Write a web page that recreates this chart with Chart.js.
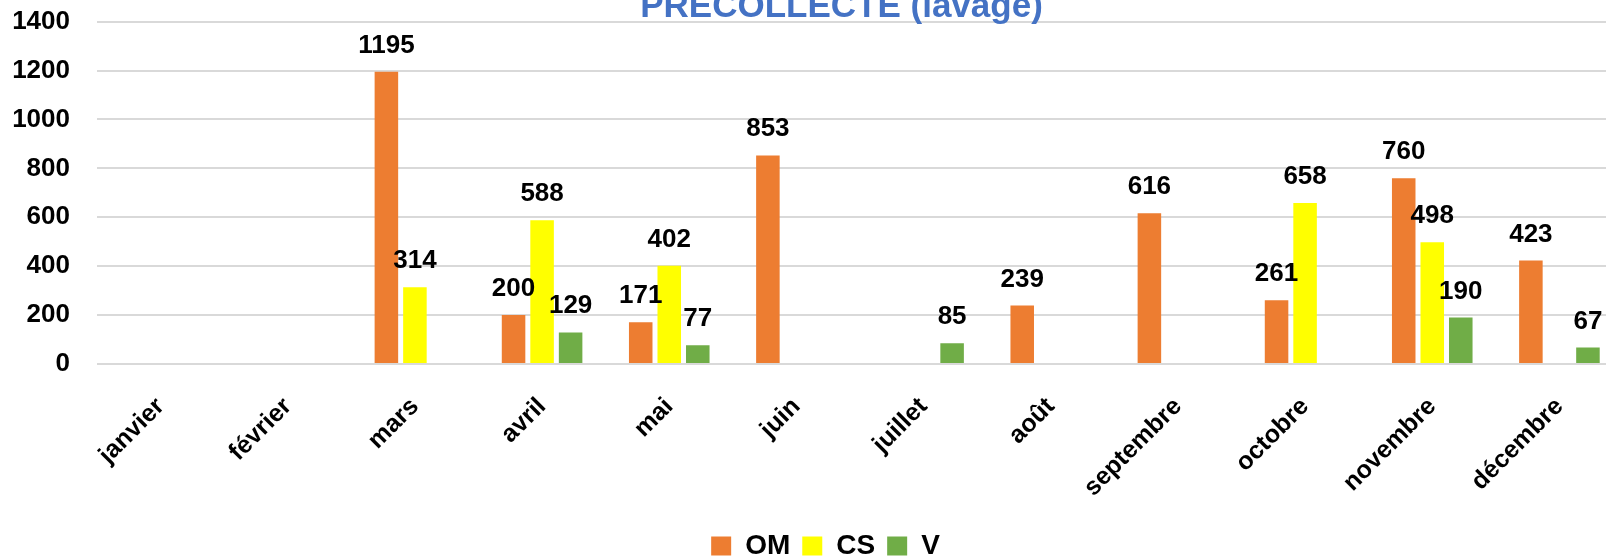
<!DOCTYPE html>
<html><head><meta charset="utf-8">
<script src="https://cdn.jsdelivr.net/npm/chart.js@4.4.1/dist/chart.umd.min.js"></script>
<style>
html,body{margin:0;padding:0;background:#fff;overflow:hidden;width:1606px;height:558px;}
#wrap{position:absolute;left:0;top:-21px;width:1623px;height:591px;}
</style></head><body>
<div id="wrap"><canvas id="c" width="1623" height="591"></canvas></div>
<script>
const categories = ["janvier","février","mars","avril","mai","juin","juillet","août","septembre","octobre","novembre","décembre"];
const omValues = [null,null,1195,200,171,853,null,239,616,261,760,423];
const csValues = [null,null,314,588,402,null,null,null,null,658,498,null];
const vValues  = [null,null,null,129,77,null,85,null,null,null,190,67];
const yTicks = [0,200,400,600,800,1000,1200,1400];
const seriesNames = ["OM","CS","V"];
const titleText = "PRECOLLECTE (lavage)";

const FONT = '"Liberation Sans", Arial, sans-serif';

const valueLabels = {
  id: 'valueLabels',
  afterDatasetsDraw(chart) {
    const ctx = chart.ctx;
    ctx.save();
    ctx.font = 'bold 26px ' + FONT;
    ctx.fillStyle = '#000';
    ctx.textAlign = 'center';
    ctx.textBaseline = 'alphabetic';
    chart.data.datasets.forEach((ds, di) => {
      const meta = chart.getDatasetMeta(di);
      meta.data.forEach((el, i) => {
        const v = ds.data[i];
        if (v === null || v === undefined) return;
        ctx.fillText(String(v), el.x, el.y - 19);
      });
    });
    ctx.restore();
  }
};

const shiftBlocks = {
  id: 'shiftBlocks',
  afterLayout(chart) {
    const t = chart.titleBlock;
    if (t) { t.left += 30; t.right += 30; }
    const l = chart.legend;
    if (l) { l.left += 14; l.right += 14; }
  }
};

new Chart(document.getElementById('c'), {
  type: 'bar',
  data: {
    labels: categories,
    datasets: [
      {label: seriesNames[0], data: omValues, backgroundColor: '#ED7D31'},
      {label: seriesNames[1], data: csValues, backgroundColor: '#FFFF00'},
      {label: seriesNames[2], data: vValues, backgroundColor: '#70AD47'}
    ]
  },
  options: {
    responsive: false,
    animation: false,
    devicePixelRatio: 1,
    layout: {padding: 0},
    datasets: {bar: {barPercentage: 0.825, categoryPercentage: 0.673}},
    plugins: {
      title: {display: true, text: titleText, color: '#4472C4',
        font: {family: FONT, size: 35, weight: 'bold', lineHeight: 1},
        padding: {top: 2.4, bottom: -2.9}},
      legend: {position: 'bottom',
        labels: {boxWidth: 20, boxHeight: 19, padding: 12, color: '#000',
          font: {family: FONT, size: 28, weight: 'bold'}}},
      tooltip: {enabled: false}
    },
    scales: {
      x: {
        grid: {display: false, drawTicks: false},
        border: {display: false},
        ticks: {minRotation: 45, maxRotation: 45, autoSkip: false, padding: 28, color: '#000',
          font: {family: FONT, size: 25, weight: 'bold'}},
        afterFit: s => { s.height = 156; }
      },
      y: {
        min: 0, max: 1400,
        afterBuildTicks: s => { s.ticks = yTicks.map(v => ({value: v})); },
        grid: {color: '#D9D9D9', lineWidth: 2, drawTicks: false},
        border: {display: false},
        ticks: {padding: 27, color: '#000', font: {family: FONT, size: 26, weight: 'bold'},
          callback: v => String(v)},
        afterFit: s => { s.width = 97; }
      }
    }
  },
  plugins: [valueLabels, shiftBlocks]
});
</script>
</body></html>
